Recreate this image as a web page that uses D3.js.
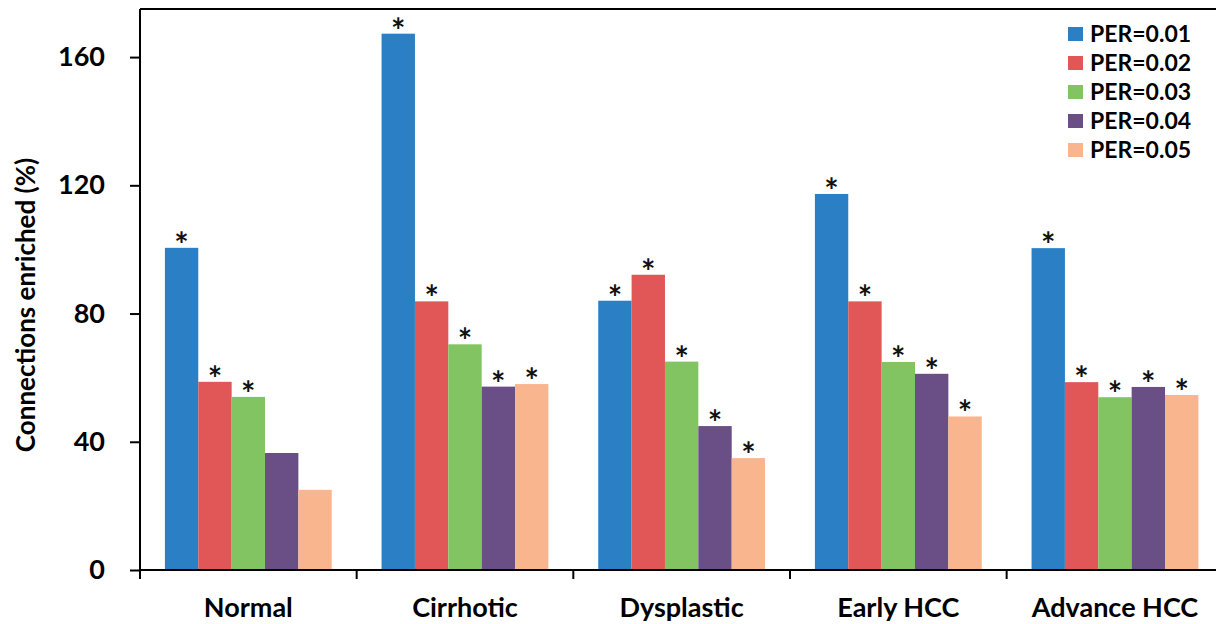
<!DOCTYPE html>
<html><head><meta charset="utf-8">
<script src="https://cdn.jsdelivr.net/npm/d3@7"></script>
<style>body{margin:0;background:#fff}svg{display:block}text{font-family:Lato,"Open Sans",sans-serif;font-weight:bold}</style>
</head><body>
<svg id="c" width="1216" height="624"></svg>
<script>
const categories = ["Normal","Cirrhotic","Dysplastic","Early HCC","Advance HCC"];
const seriesNames = ["PER=0.01","PER=0.02","PER=0.03","PER=0.04","PER=0.05"];
const per001 = [100.5, 167.3, 84, 117.3, 100.4];
const per002 = [58.7, 83.8, 92.1, 83.8, 58.6];
const per003 = [54, 70.4, 65, 64.9, 53.9];
const per004 = [36.5, 57.2, 44.9, 61.2, 57.1];
const per005 = [25, 58, 34.9, 47.9, 54.6];
const starred = [[1,1,1,1,1],[1,1,1,1,1],[1,1,1,1,1],[0,1,1,1,1],[0,1,1,1,1]];
const yTicks = [0,40,80,120,160];
const colors = ["#2b80c5","#e15757","#82c462","#6a4e86","#f9b58e"];

const series = [per001, per002, per003, per004, per005];
const svg = d3.select("#c");
const x0 = d3.scaleBand().domain(categories).range([140, 1223.3]).paddingInner(0.23).paddingOuter(0.115);
const x1 = d3.scaleBand().domain(seriesNames).range([0, x0.bandwidth()]);
const y = d3.scaleLinear().domain([0,175]).range([570, 9]);

// bars
categories.forEach((c, ci) => {
  const g = svg.append("g").attr("transform", `translate(${x0(c)},0)`);
  seriesNames.forEach((s, si) => {
    const v = series[si][ci];
    g.append("rect").attr("x", x1(s)).attr("y", y(v)).attr("width", x1.bandwidth()).attr("height", y(0)-y(v))
      .attr("fill", colors[si]);
    if (starred[si][ci]) {
      g.append("text").attr("x", x1(s) + x1.bandwidth()/2).attr("y", y(v) + 9).attr("text-anchor","middle")
        .attr("font-size", 34).attr("font-family","'DejaVu Sans',sans-serif").attr("fill","#111").text("*");
    }
  });
});

// top border
svg.append("line").attr("x1",140).attr("x2",1216).attr("y1",9).attr("y2",9).attr("stroke","#000").attr("stroke-width",2);

// y axis
const ya = svg.append("g").attr("transform","translate(140,0)")
  .call(d3.axisLeft(y).tickValues(yTicks).tickSize(10).tickPadding(25));
ya.select(".domain").attr("stroke","#000").attr("stroke-width",2).attr("d","M0,9V571");
ya.selectAll(".tick line").attr("stroke","#000").attr("stroke-width",2);
ya.selectAll(".tick text").attr("font-size",27).attr("fill","#000").attr("font-family","Lato").attr("font-weight","bold");

// x axis
const xa = svg.append("g").attr("transform","translate(0,570)");
xa.append("line").attr("x1",139).attr("x2",1216).attr("y1",0).attr("y2",0).attr("stroke","#000").attr("stroke-width",2);
const tickXs = categories.map(c => x0(c) - x0.step()*x0.paddingInner()/2);
tickXs.forEach(tx => xa.append("line").attr("x1",tx).attr("x2",tx).attr("y1",0).attr("y2",9).attr("stroke","#000").attr("stroke-width",2));
categories.forEach(c => xa.append("text").attr("x", x0(c)+x0.bandwidth()/2).attr("y", 47).attr("text-anchor","middle")
  .attr("font-size",27).attr("fill","#000").text(c));

// y title
svg.append("text").attr("transform","translate(35,305) rotate(-90)").attr("text-anchor","middle")
  .attr("font-size",26).attr("fill","#000").text("Connections enriched (%)");

// legend
const lg = svg.append("g").attr("transform","translate(1068,27)");
seriesNames.forEach((s, i) => {
  lg.append("rect").attr("x",0).attr("y", i*29).attr("width",15).attr("height",14).attr("fill",colors[i]);
  lg.append("text").attr("x",22).attr("y", i*29 + 15).attr("font-size",23).attr("fill","#000").text(s);
});
</script>
</body></html>
